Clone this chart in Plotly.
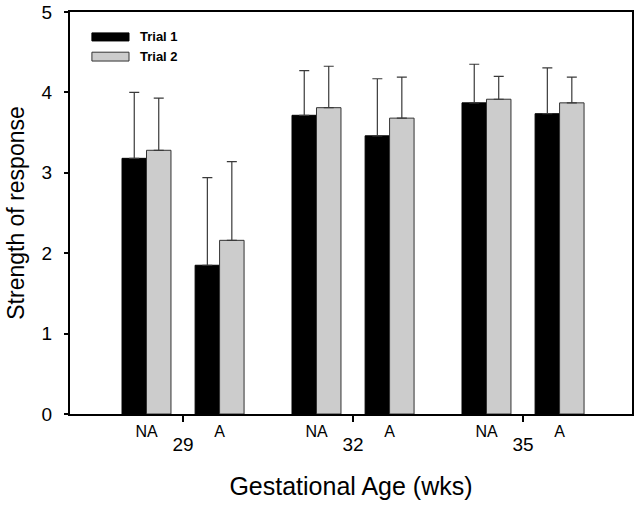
import plotly.graph_objects as go

ages = ["29", "32", "35"]
conditions = ["NA", "A"]
trial1 = [3.18, 1.85, 3.715, 3.46, 3.87, 3.735]
trial1_err = [0.82, 1.09, 0.555, 0.71, 0.48, 0.57]
trial2 = [3.28, 2.16, 3.81, 3.68, 3.915, 3.87]
trial2_err = [0.65, 0.98, 0.515, 0.51, 0.285, 0.32]
y_ticks = [0, 1, 2, 3, 4, 5]

FONT = "Arial, Liberation Sans, sans-serif"
COND_OFFSET = 0.215
BAR_W = 0.144

group_x = list(range(len(ages)))
pos = []
cond_labels = []
for g in group_x:
    for i, c in enumerate(conditions):
        pos.append(g + (-COND_OFFSET if i == 0 else COND_OFFSET))
        cond_labels.append(c)

err_style = dict(type="data", symmetric=False, color="#3a3a3a", thickness=1.2, width=5)

fig = go.Figure()
fig.add_trace(go.Bar(
    x=pos, y=trial1, name="Trial 1", width=BAR_W, offset=-BAR_W,
    marker=dict(color="black", line=dict(color="black", width=1)),
    error_y=dict(array=trial1_err, arrayminus=[0] * len(trial1_err), **err_style),
))
fig.add_trace(go.Bar(
    x=pos, y=trial2, name="Trial 2", width=BAR_W, offset=0,
    marker=dict(color="#cccccc", line=dict(color="#333333", width=1)),
    error_y=dict(array=trial2_err, arrayminus=[0] * len(trial2_err), **err_style),
))
# invisible trace to drive the condition tick labels on the overlay axis
fig.add_trace(go.Scatter(x=pos, y=[0] * len(pos), xaxis="x2", mode="markers",
                         marker=dict(opacity=0), showlegend=False, hoverinfo="skip"))

xr = [-0.665, 2.641]
fig.update_layout(
    width=640, height=505,
    margin=dict(l=70, r=8, t=12, b=91),
    paper_bgcolor="white", plot_bgcolor="white",
    showlegend=False,
    font=dict(family=FONT, color="black"),
    xaxis=dict(
        range=xr, tickvals=group_x, ticktext=ages, automargin=False,
        ticks="outside", ticklen=6, tickwidth=2, tickcolor="black",
        showline=True, linewidth=2, linecolor="black", mirror=True,
        showgrid=False, zeroline=False,
        tickfont=dict(size=19, family=FONT),
        ticklabelstandoff=6,
        title=dict(text="Gestational Age (wks)", font=dict(size=25, family=FONT), standoff=24),
    ),
    xaxis2=dict(
        range=xr, overlaying="x", side="bottom", anchor="y", automargin=False,
        tickvals=pos, ticktext=cond_labels, ticks="",
        showline=False, showgrid=False, zeroline=False,
        tickfont=dict(size=16, family=FONT),
        ticklabelstandoff=6,
    ),
    yaxis=dict(
        range=[0, 5], tickvals=y_ticks, automargin=False,
        ticks="outside", ticklen=4, tickwidth=2, tickcolor="black",
        showline=True, linewidth=2, linecolor="black", mirror=True,
        showgrid=False, zeroline=False,
        tickfont=dict(size=19, family=FONT),
        ticklabelstandoff=8,
        title=dict(text="Strength of response", font=dict(size=23, family=FONT), standoff=11),
    ),
)

# legend drawn manually (wide rectangular swatches like the reference)
legend_items = [("Trial 1", "black", "black", 0.948, 0.928, 0.938),
                ("Trial 2", "#cccccc", "#333333", 0.900, 0.878, 0.889)]
for name, fill, line, y1, y0, ty in legend_items:
    fig.add_shape(type="rect", xref="paper", yref="paper", x0=0.039, x1=0.105,
                  y0=y0, y1=y1, fillcolor=fill, line=dict(color=line, width=1))
    fig.add_annotation(xref="paper", yref="paper", x=0.121, y=ty, text="<b>" + name + "</b>",
                       showarrow=False, xanchor="left", yanchor="middle",
                       font=dict(size=13, family=FONT, color="black"))

fig.write_html("out.html", config={"displayModeBar": False},
               post_script="document.body.style.margin='0';document.body.style.overflow='hidden';")
